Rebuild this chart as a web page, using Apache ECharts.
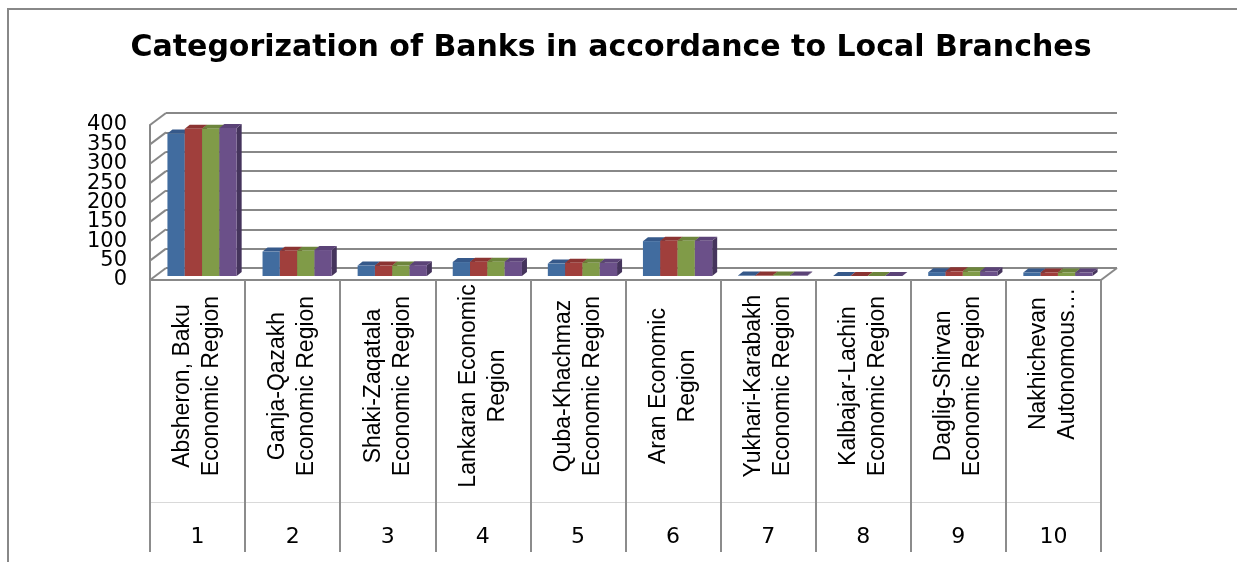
<!DOCTYPE html>
<html>
<head>
<meta charset="utf-8">
<script src="https://cdn.jsdelivr.net/npm/echarts@6/dist/echarts.min.js"></script>
<style>
  html, body { margin: 0; padding: 0; background: #ffffff; }
  #chart { width: 1237px; height: 562px; }
</style>
</head>
<body>
<div id="chart"></div>
<script>
// ---------------- data ----------------
const titleText = 'Categorization of Banks in accordance to Local Branches';
const regions = [
  'Absheron, Baku\nEconomic Region',
  'Ganja-Qazakh\nEconomic Region',
  'Shaki-Zaqatala\nEconomic Region',
  'Lankaran Economic\nRegion',
  'Quba-Khachmaz\nEconomic Region',
  'Aran Economic\nRegion',
  'Yukhari-Karabakh\nEconomic Region',
  'Kalbajar-Lachin\nEconomic Region',
  'Daglig-Shirvan\nEconomic Region',
  'Nakhichevan\nAutonomous\u2026'
];
const regionNumbers = ['1', '2', '3', '4', '5', '6', '7', '8', '9', '10'];
const yTicks = [0, 50, 100, 150, 200, 250, 300, 350, 400];
const seriesA = [368, 63, 27, 36, 32, 90, 1, 0, 10, 9];
const seriesB = [380, 65, 27, 37, 34, 91, 1, 0, 12, 9];
const seriesC = [380, 65, 27, 37, 34, 91, 1, 0, 12, 9];
const seriesD = [382, 67, 28, 37, 34, 91, 1, 0, 12, 9];

// ---------------- styles ----------------
const GRID_LEFT = 150, GRID_TOP = 125, GRID_W = 951, GRID_H = 155;
const WALL_DX = 16, WALL_DY = -12;      // depth of the floor / walls
const BAR_SHIFT_X = 4.5, BAR_SHIFT_Y = -4; // bars sit a third into the floor
const BAR_DX = 5, BAR_DY = -4;          // depth of a single bar
const BAR_FRAC = 0.182;
const LINE_GREY = '#888888';
const Y_LABEL_GAP = 23;
const NBSP_SHIFT = '\u00a0\u00a0\u00a0\u00a0\u00a0\u00a0\u00a0'; // nudges the truncated last label towards the axis
const faces = [
  { front: '#416C9F', top: '#36598A', side: '#2C4870' },
  { front: '#A03F3C', top: '#8B3432', side: '#6E2826' },
  { front: '#809B48', top: '#6D853C', side: '#566A2F' },
  { front: '#6B5089', top: '#5B4377', side: '#45345C' }
];
const allSeries = [seriesA, seriesB, seriesC, seriesD];

function barSeries(values, idx) {
  return {
    type: 'custom',
    xAxisIndex: 0, yAxisIndex: 0,
    z: 10 + idx,
    clip: false,
    encode: { x: 0, y: 1 },
    data: values.map((v, i) => [i, v]),
    renderItem: function (params, api) {
      const cat = api.value(0), v = api.value(1);
      const top = api.coord([cat, v]);
      const base = api.coord([cat, 0]);
      const band = api.size([1, 0])[0];
      const bw = band * BAR_FRAC;
      const x0 = top[0] - 2 * bw + idx * bw + BAR_SHIFT_X;
      const yT = top[1] + BAR_SHIFT_Y;
      const yB = base[1] + BAR_SHIFT_Y;
      const f = faces[idx];
      return {
        type: 'group',
        children: [
          { type: 'polygon', shape: { points: [[x0 + bw, yT], [x0 + bw + BAR_DX, yT + BAR_DY], [x0 + bw + BAR_DX, yB + BAR_DY], [x0 + bw, yB]] }, style: { fill: f.side } },
          { type: 'polygon', shape: { points: [[x0, yT], [x0 + bw, yT], [x0 + bw + BAR_DX, yT + BAR_DY], [x0 + BAR_DX, yT + BAR_DY]] }, style: { fill: f.top } },
          { type: 'rect', shape: { x: x0, y: yT, width: bw, height: Math.max(0, yB - yT) }, style: { fill: f.front } }
        ]
      };
    }
  };
}

const chart = echarts.init(document.getElementById('chart'), null, { renderer: 'canvas' });
const option = {
  animation: false,
  backgroundColor: '#ffffff',
  title: {
    text: titleText,
    left: 606, top: 28, textAlign: 'center',
    textStyle: { fontFamily: 'DejaVu Sans', fontWeight: 'bold', fontSize: 30, color: '#000000' }
  },
  graphic: [
    { type: 'line', shape: { x1: 8, y1: 9, x2: 8, y2: 562 }, style: { stroke: LINE_GREY, lineWidth: 2 }, silent: true },
    { type: 'line', shape: { x1: 7, y1: 9, x2: 1237, y2: 9 }, style: { stroke: LINE_GREY, lineWidth: 2 }, silent: true }
  ],
  grid: [
    { left: GRID_LEFT, top: GRID_TOP, width: GRID_W, height: GRID_H, outerBoundsMode: 'none', containLabel: false },
    { left: GRID_LEFT + WALL_DX, top: GRID_TOP + WALL_DY, width: GRID_W, height: GRID_H, outerBoundsMode: 'none', containLabel: false }
  ],
  xAxis: [
    {
      gridIndex: 0, type: 'category', data: regions,
      position: 'bottom',
      axisLine: { show: true, lineStyle: { color: LINE_GREY, width: 2 } },
      axisTick: { show: true, interval: 0, length: 272, lineStyle: { color: '#8c8c8c', width: 2 } },
      axisLabel: {
        interval: 0, rotate: 90, align: 'center', verticalAlign: 'middle', margin: 106,
        fontFamily: 'Liberation Sans', fontSize: 23, lineHeight: 29, color: '#000000', hideOverlap: false,
        formatter: function (value, index) {
          return index === 9 ? value.split('\n').map(s => NBSP_SHIFT + s).join('\n') : value;
        }
      },
      splitLine: { show: false }
    },
    {
      gridIndex: 0, type: 'category', data: regionNumbers, position: 'bottom',
      axisLine: { show: false }, axisTick: { show: false },
      axisLabel: { interval: 0, margin: 257, verticalAlign: 'middle', fontFamily: 'DejaVu Sans', fontSize: 22, color: '#000000', hideOverlap: false },
      splitLine: { show: false }
    },
    {
      gridIndex: 0, type: 'category', data: regionNumbers, position: 'bottom', offset: 222,
      axisLine: { show: true, lineStyle: { color: '#d9d9d9', width: 1 } },
      axisTick: { show: false }, axisLabel: { show: false }, splitLine: { show: false }
    },
    {
      gridIndex: 1, type: 'category', data: regionNumbers, show: false
    }
  ],
  yAxis: [
    {
      gridIndex: 0, type: 'value', min: 0, max: 400, interval: 50,
      axisLine: { show: true, lineStyle: { color: LINE_GREY, width: 2 } },
      axisTick: { show: false }, splitLine: { show: false },
      axisLabel: { show: false }
    },
    {
      gridIndex: 1, type: 'value', min: 0, max: 400, interval: 50,
      axisLine: { show: false }, axisTick: { show: false }, axisLabel: { show: false },
      splitLine: { show: true, lineStyle: { color: LINE_GREY, width: 2 } }
    }
  ],
  series: [
    {
      // left wall depth lines, floor right edge and the value labels of the front plane
      type: 'custom', xAxisIndex: 0, yAxisIndex: 0, z: 5, clip: false,
      encode: { x: 0, y: 1 },
      data: yTicks.map(v => [0, v]),
      renderItem: function (params, api) {
        const v = api.value(1);
        const y = api.coord([0, v])[1];
        const cs = params.coordSys;
        const children = [
          { type: 'line', shape: { x1: cs.x, y1: y, x2: cs.x + WALL_DX, y2: y + WALL_DY }, style: { stroke: LINE_GREY, lineWidth: 2 } },
          { type: 'text', x: cs.x - Y_LABEL_GAP, y: y, style: { text: String(v), align: 'right', verticalAlign: 'middle', fontFamily: 'DejaVu Sans', fontSize: 21, fill: '#000000' } }
        ];
        if (v === 0) {
          children.push({ type: 'line', shape: { x1: cs.x + cs.width, y1: y, x2: cs.x + cs.width + WALL_DX, y2: y + WALL_DY }, style: { stroke: LINE_GREY, lineWidth: 2 } });
        }
        return { type: 'group', children: children };
      }
    }
  ].concat(allSeries.map((s, i) => barSeries(s, i)))
};
chart.setOption(option);
</script>
</body>
</html>
